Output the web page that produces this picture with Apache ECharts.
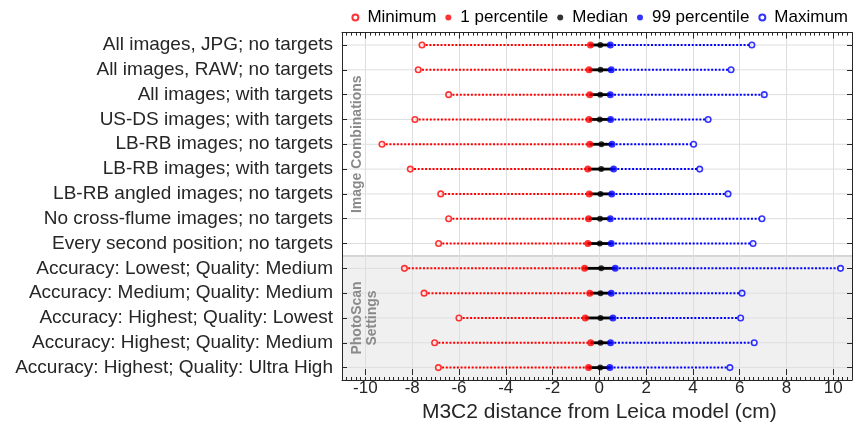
<!DOCTYPE html>
<html>
<head>
<meta charset="utf-8">
<title>M3C2 distance ranges</title>
<script src="https://cdn.jsdelivr.net/npm/echarts@6/dist/echarts.min.js"></script>
<style>
  html, body { margin: 0; padding: 0; background: #fff; }
  #chart { width: 855px; height: 428px; }
</style>
</head>
<body>
<div id="chart"></div>
<script>
// Point-cloud comparison configurations (top to bottom)
const categories = [
  'All images, JPG; no targets',
  'All images, RAW; no targets',
  'All images; with targets',
  'US-DS images; with targets',
  'LB-RB images; no targets',
  'LB-RB images; with targets',
  'LB-RB angled images; no targets',
  'No cross-flume images; no targets',
  'Every second position; no targets',
  'Accuracy: Lowest; Quality: Medium',
  'Accuracy: Medium; Quality: Medium',
  'Accuracy: Highest; Quality: Lowest',
  'Accuracy: Highest; Quality: Medium',
  'Accuracy: Highest; Quality: Ultra High'
];

// Distance statistics (cm)
const minVals = [-7.58, -7.74, -6.44, -7.88, -9.29, -8.08, -6.78, -6.44, -6.87, -8.33, -7.49, -6.00, -7.04, -6.88];
const p1Vals  = [-0.38, -0.44, -0.41, -0.44, -0.41, -0.49, -0.43, -0.46, -0.49, -0.63, -0.41, -0.60, -0.37, -0.46];
const medVals = [0.04, 0.05, 0.04, 0.02, 0.09, 0.08, 0.05, 0.03, 0.02, 0.08, 0.05, 0.05, 0.05, 0.04];
const p99Vals = [0.47, 0.51, 0.47, 0.48, 0.54, 0.61, 0.53, 0.47, 0.51, 0.68, 0.51, 0.58, 0.48, 0.45];
const maxVals = [6.52, 5.63, 7.05, 4.65, 4.03, 4.29, 5.50, 6.95, 6.57, 10.31, 6.10, 6.04, 6.62, 5.58];

// Row groups
const groupNames  = ['Image Combinations', 'PhotoScan\nSettings'];
const groupStart  = [0, 9];
const groupEnd    = [8, 13];
const groupShaded = [0, 1];

// Axis limits and labelled ticks
const xLimits = [-11, 10.8];
const xTickRange = [-10, 10];
const xTickStep = 2;
const xMinorStep = 0.2;

const seriesNames = ['Minimum', '1 percentile', 'Median', '99 percentile', 'Maximum'];

const FONT = 'Liberation Sans, Arial, Helvetica, sans-serif';
const AXIS_COLOR = '#262626';
const GRID_COLOR = '#dedede';
const RED = '#ff0000';
const BLUE = '#0000ff';

const chart = echarts.init(document.getElementById('chart'), null, { renderer: 'canvas' });

const rows = categories.map((c, i) => i);
const rangeData = rows.map(i => [i, minVals[i], p1Vals[i], medVals[i], p99Vals[i], maxVals[i]]);
const pts = vals => vals.map((v, i) => [v, i]);

const gridTop = 32.6, gridBottom = 48, gridLeft = 342, gridRight = 3;
const pxPerUnit = (855 - gridLeft - gridRight) / (xLimits[1] - xLimits[0]);
const tickGridLeft = gridLeft + (xTickRange[0] - xLimits[0]) * pxPerUnit;
const tickGridRight = gridRight + (xLimits[1] - xTickRange[1]) * pxPerUnit;

const option = {
  animation: false,
  textStyle: { fontFamily: FONT },
  legend: {
    data: seriesNames,
    right: 2,
    top: 4,
    icon: 'circle',
    itemWidth: 6,
    itemHeight: 6,
    itemGap: 9,
    textStyle: { fontSize: 17, color: '#000', fontFamily: FONT, padding: [0, 0, 0, 4] }
  },
  grid: [
    { left: gridLeft, right: gridRight, top: gridTop, bottom: gridBottom, containLabel: false },
    { left: tickGridLeft, right: tickGridRight, top: gridTop, bottom: gridBottom, containLabel: false }
  ],
  xAxis: [
    { // data axis, bottom (minor ticks + frame)
      type: 'value', gridIndex: 0, position: 'bottom',
      min: xLimits[0], max: xLimits[1], interval: xMinorStep,
      axisLine: { show: true, onZero: false, lineStyle: { color: AXIS_COLOR, width: 1 } },
      axisTick: { show: true, inside: true, length: 3, lineStyle: { color: AXIS_COLOR } },
      axisLabel: { show: false }, splitLine: { show: false }
    },
    { // top frame with minor ticks
      type: 'value', gridIndex: 0, position: 'top',
      min: xLimits[0], max: xLimits[1], interval: xMinorStep,
      axisLine: { show: true, onZero: false, lineStyle: { color: AXIS_COLOR, width: 1 } },
      axisTick: { show: true, inside: true, length: 3, lineStyle: { color: AXIS_COLOR } },
      axisLabel: { show: false }, splitLine: { show: false }
    },
    { // labelled major ticks, bottom
      type: 'value', gridIndex: 1, position: 'bottom',
      min: xTickRange[0], max: xTickRange[1], interval: xTickStep,
      name: 'M3C2 distance from Leica model (cm)',
      nameLocation: 'middle', nameGap: 24,
      nameTextStyle: { fontSize: 21, color: AXIS_COLOR, fontFamily: FONT },
      axisLine: { show: false, onZero: false },
      axisTick: { show: true, inside: true, length: 6, lineStyle: { color: AXIS_COLOR } },
      axisLabel: { show: true, fontSize: 17, color: AXIS_COLOR, margin: 5, fontFamily: FONT },
      splitLine: { show: true, lineStyle: { color: GRID_COLOR, width: 1 } }
    },
    { // major ticks, top
      type: 'value', gridIndex: 1, position: 'top',
      min: xTickRange[0], max: xTickRange[1], interval: xTickStep,
      axisLine: { show: false, onZero: false },
      axisTick: { show: true, inside: true, length: 6, lineStyle: { color: AXIS_COLOR } },
      axisLabel: { show: false }, splitLine: { show: false }
    }
  ],
  yAxis: [
    {
      type: 'category', gridIndex: 0, position: 'left', inverse: true, data: categories,
      axisLine: { show: true, onZero: false, lineStyle: { color: AXIS_COLOR, width: 1 } },
      axisTick: { show: true, inside: true, alignWithLabel: true, length: 5, lineStyle: { color: AXIS_COLOR } },
      axisLabel: { show: true, fontSize: 19, color: AXIS_COLOR, margin: 9, fontFamily: FONT },
      splitLine: { show: false }
    },
    {
      type: 'category', gridIndex: 0, position: 'right', inverse: true, data: categories,
      axisLine: { show: true, onZero: false, lineStyle: { color: AXIS_COLOR, width: 1 } },
      axisTick: { show: true, inside: true, alignWithLabel: true, length: 5, lineStyle: { color: AXIS_COLOR } },
      axisLabel: { show: false }, splitLine: { show: false }
    },
    { type: 'category', gridIndex: 1, inverse: true, data: categories, show: false }
  ],
  series: [
    { // shaded background for grouped rows
      type: 'custom', xAxisIndex: 0, yAxisIndex: 0, z: -2, silent: true,
      data: groupNames.map((n, g) => [0, groupStart[g], groupEnd[g], groupShaded[g]]),
      encode: { x: 0, y: [1, 2] },
      renderItem: function (params, api) {
        if (!api.value(3)) return null;
        const cs = params.coordSys;
        const half = api.size([0, 1])[1] / 2;
        const y0 = api.coord([0, api.value(1)])[1] - half;
        const y1 = api.coord([0, api.value(2)])[1] + half;
        return {
          type: 'group',
          children: [
            { type: 'rect', shape: { x: cs.x, y: y0, width: cs.width, height: y1 - y0 },
              style: { fill: '#f0f0f0' } },
            { type: 'line', shape: { x1: cs.x, y1: y0, x2: cs.x + cs.width, y2: y0 },
              style: { stroke: '#b4b4b4', lineWidth: 1 } }
          ]
        };
      }
    },
    { // horizontal grid lines at each row
      type: 'custom', xAxisIndex: 0, yAxisIndex: 0, z: -1, silent: true,
      data: rows.map(i => [0, i]),
      encode: { x: 0, y: 1 },
      renderItem: function (params, api) {
        const cs = params.coordSys;
        const y = api.coord([0, api.value(1)])[1];
        return { type: 'line', shape: { x1: cs.x, y1: y, x2: cs.x + cs.width, y2: y },
                 style: { stroke: GRID_COLOR, lineWidth: 1 } };
      }
    },
    { // group captions
      type: 'custom', xAxisIndex: 0, yAxisIndex: 0, z: 3, silent: true,
      data: groupNames.map((n, g) => [0, groupStart[g], groupEnd[g], g]),
      encode: { x: 0, y: [1, 2] },
      renderItem: function (params, api) {
        const cs = params.coordSys;
        const yA = api.coord([0, api.value(1)])[1];
        const yB = api.coord([0, api.value(2)])[1];
        return {
          type: 'text', x: cs.x + 8, y: (yA + yB) / 2, rotation: Math.PI / 2,
          style: { text: groupNames[api.value(3)], align: 'center', verticalAlign: 'top',
                   fill: '#8a8a8a', font: 'bold 14px ' + FONT, lineHeight: 15 }
        };
      }
    },
    { // range segments
      type: 'custom', xAxisIndex: 0, yAxisIndex: 0, z: 2, silent: true,
      data: rangeData,
      encode: { x: [1, 2, 3, 4, 5], y: 0 },
      renderItem: function (params, api) {
        const row = api.value(0);
        const a = api.coord([api.value(1), row]);
        const b = api.coord([api.value(2), row]);
        const d = api.coord([api.value(4), row]);
        const e = api.coord([api.value(5), row]);
        return {
          type: 'group',
          children: [
            { type: 'line', shape: { x1: a[0], y1: a[1], x2: b[0], y2: b[1] },
              style: { stroke: RED, lineWidth: 2, lineDash: [2, 1.7] } },
            { type: 'line', shape: { x1: d[0], y1: d[1], x2: e[0], y2: e[1] },
              style: { stroke: BLUE, lineWidth: 2, lineDash: [2, 1.7] } },
            { type: 'line', shape: { x1: b[0], y1: b[1], x2: d[0], y2: d[1] },
              style: { stroke: '#000', lineWidth: 2.8 } }
          ]
        };
      }
    },
    {
      name: 'Minimum', type: 'scatter', xAxisIndex: 0, yAxisIndex: 0, z: 4,
      data: pts(minVals), symbol: 'circle', symbolSize: 5.5,
      itemStyle: { color: '#ffffff', borderColor: RED, borderWidth: 1.6 }
    },
    {
      name: '1 percentile', type: 'scatter', xAxisIndex: 0, yAxisIndex: 0, z: 4,
      data: pts(p1Vals), symbol: 'circle', symbolSize: 7,
      itemStyle: { color: RED }
    },
    {
      name: 'Median', type: 'scatter', xAxisIndex: 0, yAxisIndex: 0, z: 5,
      data: pts(medVals), symbol: 'circle', symbolSize: 6,
      itemStyle: { color: '#000' }
    },
    {
      name: '99 percentile', type: 'scatter', xAxisIndex: 0, yAxisIndex: 0, z: 4,
      data: pts(p99Vals), symbol: 'circle', symbolSize: 7,
      itemStyle: { color: BLUE }
    },
    {
      name: 'Maximum', type: 'scatter', xAxisIndex: 0, yAxisIndex: 0, z: 4,
      data: pts(maxVals), symbol: 'circle', symbolSize: 5.5,
      itemStyle: { color: '#ffffff', borderColor: BLUE, borderWidth: 1.6 }
    }
  ]
};

chart.setOption(option);
</script>
</body>
</html>
